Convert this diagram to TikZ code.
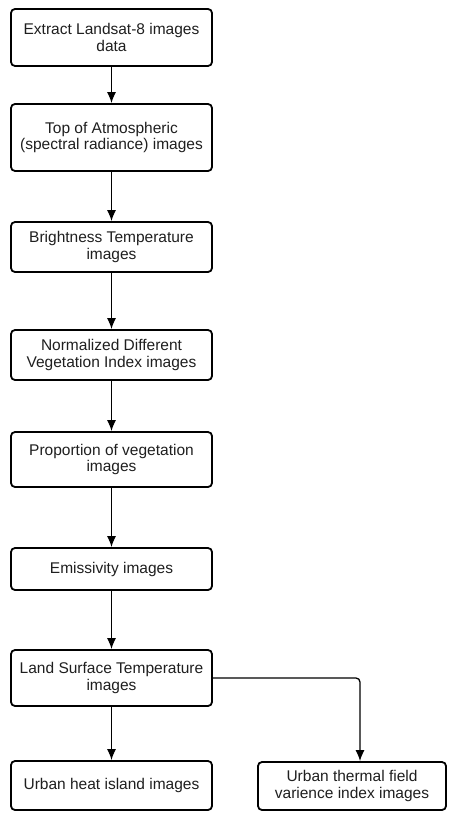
\documentclass[tikz,border=0pt]{standalone}
\usepackage{fontspec}
\setmainfont{Liberation Sans}
\usetikzlibrary{arrows.meta}
\begin{document}
\begin{tikzpicture}[x=1pt,y=-1pt,
  box/.style={draw=black, line width=1.8pt, rounded corners=4pt, fill=white,
    minimum width=201pt, align=center, inner sep=2pt,
    font=\fontsize{15.5}{16.5}\selectfont, text=black!88},
  conn/.style={line width=1.3pt, -{Latex[length=11pt,width=9pt]}}]
\useasboundingbox (0,0) rectangle (454,813);
\node[box, minimum height=57pt] (b1) at (111.5,37.5) {Extract Landsat-8 images\\data};
\node[box, minimum height=67pt] (b2) at (111.5,137.5) {Top of Atmospheric\\(spectral radiance) images};
\node[box, minimum height=50pt] (b3) at (111.5,247) {Brightness Temperature\\images};
\node[box, minimum height=50pt] (b4) at (111.5,355) {Normalized Different\\Vegetation Index images};
\node[box, minimum height=55pt] (b5) at (111.5,459.5) {Proportion of vegetation\\images};
\node[box, minimum height=42pt] (b6) at (111.5,569) {Emissivity images};
\node[box, minimum height=56pt] (b7) at (111.5,678) {Land Surface Temperature\\images};
\node[box, minimum height=49pt] (b8) at (111.5,785.5) {Urban heat island images};
\node[box, minimum height=48pt, minimum width=188pt] (b9) at (352,786) {Urban thermal field\\varience index images};
\coordinate (turn) at (360,678);
\draw[conn] (b1) -- (b2);
\draw[conn] (b2) -- (b3);
\draw[conn] (b3) -- (b4);
\draw[conn] (b4) -- (b5);
\draw[conn] (b5) -- (b6);
\draw[conn] (b6) -- (b7);
\draw[conn] (b7) -- (b8);
\draw[conn, rounded corners=4pt] (b7.east) -- (turn) -- (turn |- b9.north);
\end{tikzpicture}
\end{document}
